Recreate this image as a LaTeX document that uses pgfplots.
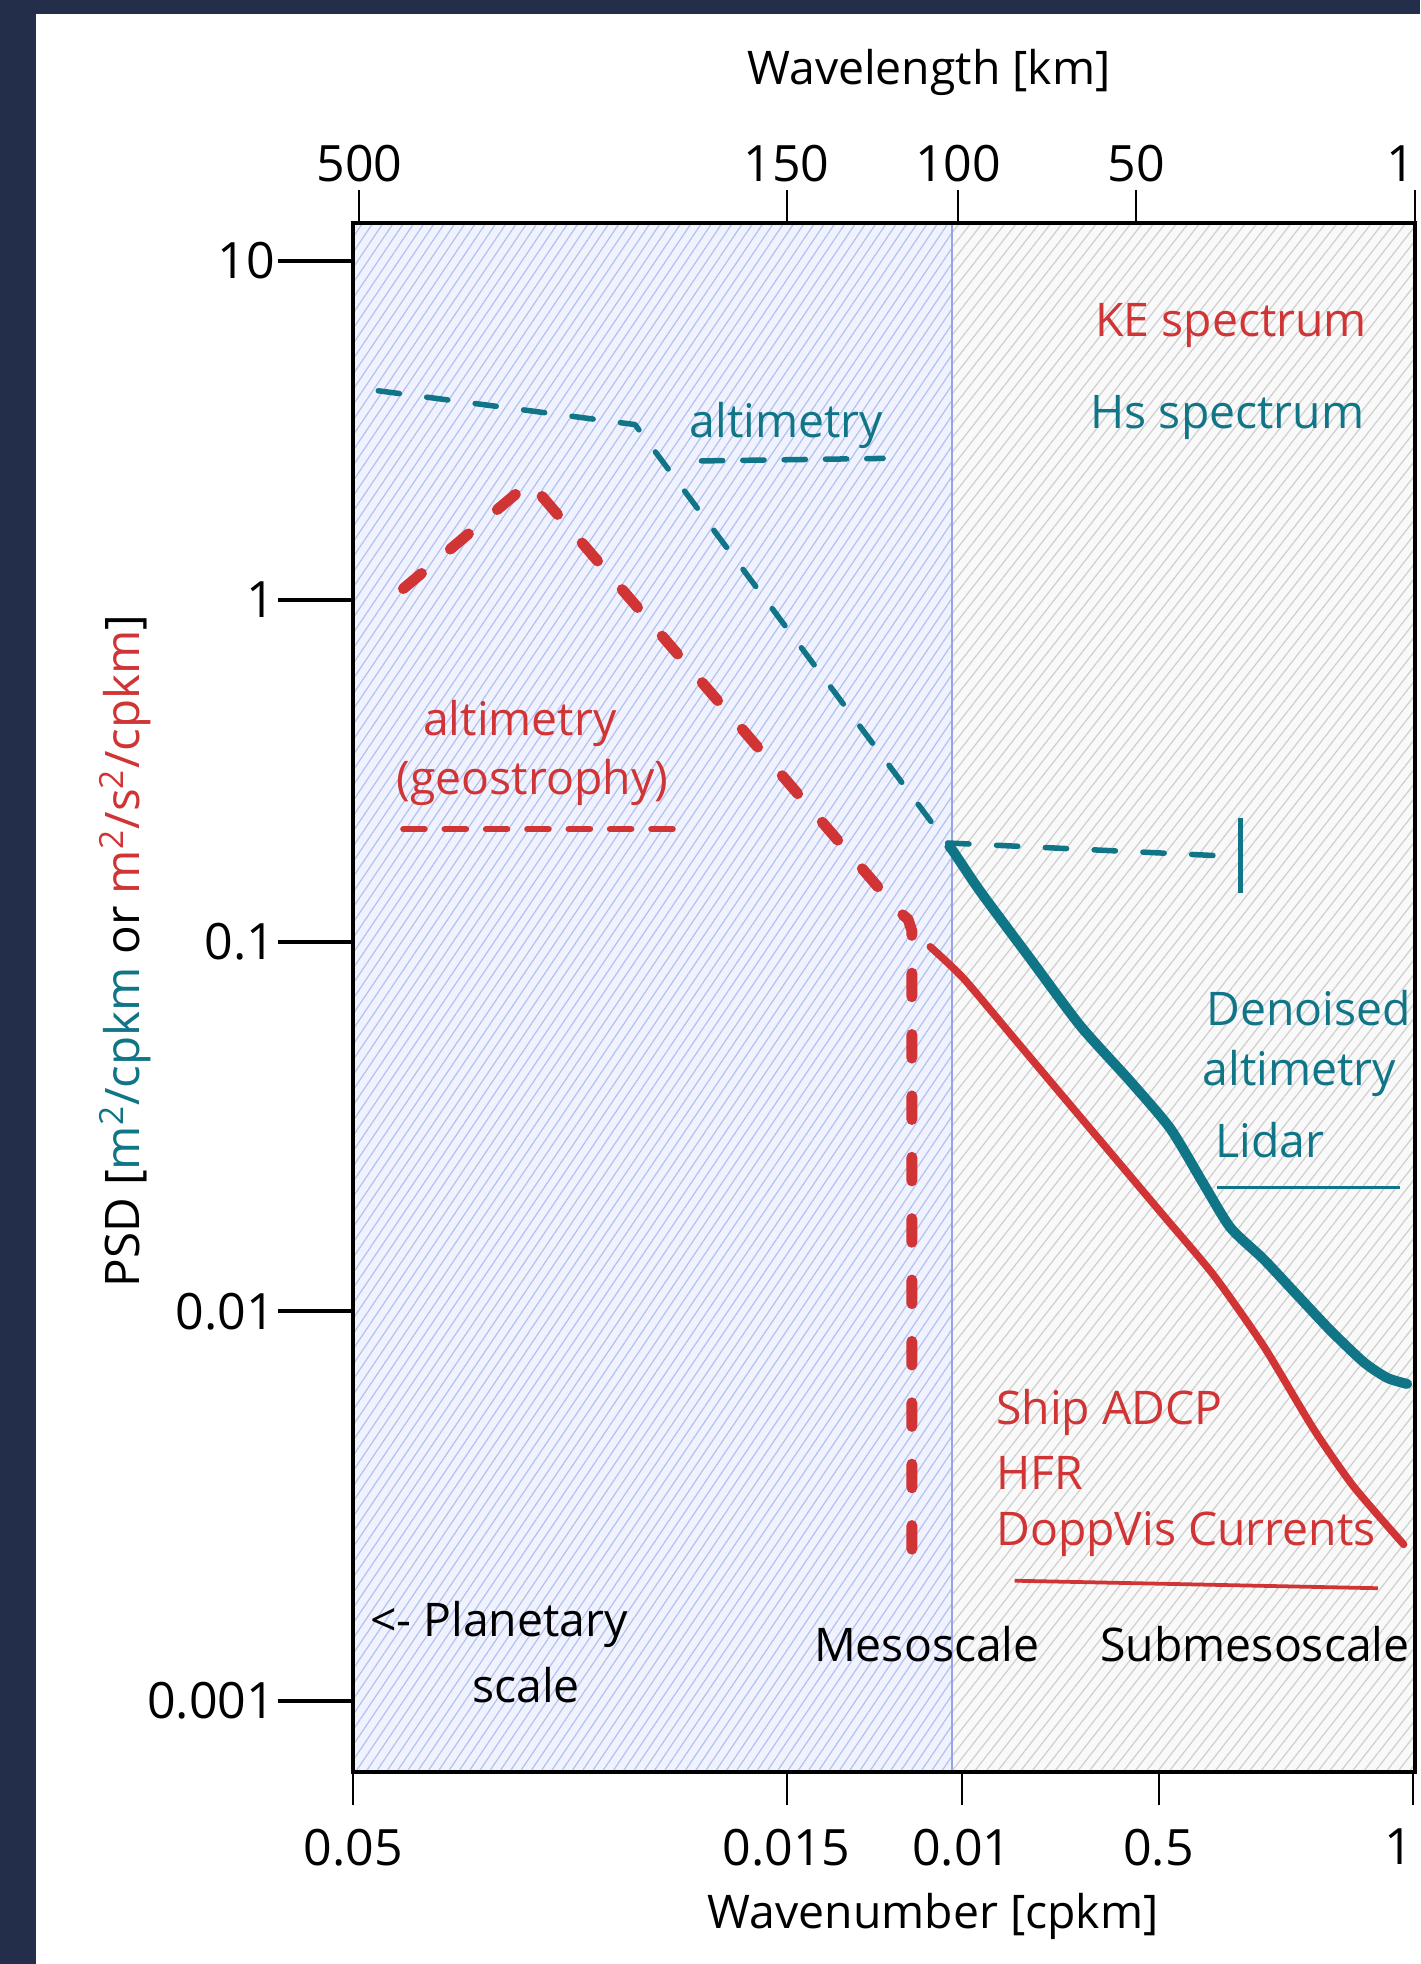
\documentclass[border=0pt]{standalone}
\usepackage{pgfplots}
\pgfplotsset{compat=1.18}
\usetikzlibrary{patterns.meta}
\usepackage{fontspec}
\setmainfont{Open Sans}
\definecolor{navy}{RGB}{34,46,74}
\definecolor{kered}{RGB}{208,52,52}
\definecolor{hsteal}{RGB}{16,117,134}
\definecolor{bluebg}{RGB}{240,243,254}
\definecolor{bluehatch}{RGB}{180,194,242}
\definecolor{blueedge}{RGB}{150,165,225}
\definecolor{graybg}{RGB}{249,249,249}
\definecolor{grayhatch}{RGB}{208,208,208}
\newcommand\annot{\fontsize{18.5}{22}\selectfont}
\newcommand\tickf{\fontsize{20}{24}\selectfont}
\pgfplotsset{
  base/.style={
    scale only axis, width=424pt, height=618.5pt,
    xmin=0, xmax=848, ymin=0, ymax=1237,
    at={(141pt,76.5pt)}, anchor=south west,
    clip=false,
  }
}
\begin{document}
\begin{tikzpicture}
\useasboundingbox (0,0) rectangle (567pt,784pt);
\clip (0,0) rectangle (567pt,784pt);
\fill[navy] (0,0) rectangle (567pt,784pt);
\fill[white] (14.4pt,0pt) rectangle (567pt,778.4pt);
\begin{axis}[base,
  axis on top,
  axis line style={line width=1.6pt, black},
  xtick=\empty,
  ytick={57,368,663,936,1207},
  yticklabels={0.001,0.01,0.1,1,10},
  ytick pos=left,
  tick align=outside,
  major tick length=30pt,
  ytick style={line width=1.6pt, black},
  yticklabel style={font=\tickf, inner sep=1pt},
  ylabel={PSD [\textcolor{hsteal}{m\textsuperscript{2}/cpkm} or \textcolor{kered}{m\textsuperscript{2}/s\textsuperscript{2}/cpkm}]},
  ylabel style={at={([xshift=-91pt]axis description cs:0,0.53)}, anchor=center, font=\fontsize{19}{22}\selectfont},
]
% scale regions
\addplot[draw=none, fill=bluebg] coordinates {(0,0) (478,0) (478,1237) (0,1237) (0,0)};
\addplot[draw=none, pattern={Lines[angle=56,distance=3.4pt,line width=0.5pt]}, pattern color=bluehatch] coordinates {(0,0) (478,0) (478,1237) (0,1237) (0,0)};
\addplot[draw=none, fill=graybg] coordinates {(478,0) (848,0) (848,1237) (478,1237) (478,0)};
\addplot[draw=none, pattern={Lines[angle=52,distance=3.6pt,line width=0.5pt]}, pattern color=grayhatch] coordinates {(478,0) (848,0) (848,1237) (478,1237) (478,0)};
\addplot[blueedge, line width=1pt, no marks] coordinates {(478,0) (478,1237)};
% Hs altimetry (dashed)
\addplot[hsteal, no marks, line width=2.2pt, line cap=round, line join=round, dash pattern=on 8.5pt off 11pt] coordinates {(20,1103) (225,1076) (474,742) (708,731)};
\addplot[hsteal, no marks, line width=2pt] coordinates {(708,762) (708,702)};
% KE altimetry (dashed)
\addplot[kered, no marks, line width=4.3pt, line cap=round, line join=round, dash pattern=on 9.5pt off 15pt] coordinates {(40,945) (141,1030) (436,687) (443,681) (446,672) (446,170)};
% Hs denoised altimetry / lidar
\addplot[hsteal, no marks, line width=4pt, line cap=round, line join=round, smooth, tension=0.4] coordinates {(476,739) (479.3,734.9) (500.6,703.3) (540.5,649.6) (580.5,596) (620.4,551.7) (652.4,513.9) (679,469.6) (700.3,434.9) (726.9,409.6) (753.5,381.2) (780,353) (806.7,327.5) (825.4,315) (841.4,310.1)};
% KE ship ADCP / HFR / DoppVis
\addplot[kered, no marks, line width=3pt, line cap=round, line join=round, smooth, tension=0.4] coordinates {(460.7,659.1) (487.3,633.8) (527.2,586.5) (567.1,539.1) (607.1,491.7) (647,444.4) (686.9,397) (726.9,340.2) (766.8,274) (798.6,228.3) (838.6,182)};
% underlines
\addplot[hsteal, no marks, line width=2.2pt, line cap=round, dash pattern=on 8.5pt off 8pt] coordinates {(278,1047) (423,1049)};
\addplot[kered, no marks, line width=2.5pt, line cap=round, dash pattern=on 8.5pt off 8pt] coordinates {(40,753) (258,753)};
\addplot[hsteal, no marks, line width=1.2pt] coordinates {(690,467) (836,467)};
\addplot[kered, no marks, line width=1.5pt] coordinates {(528,153) (818,147)};
% annotations
\node[hsteal, font=\annot] at (axis cs:346,1075) {altimetry};
\node[kered, font=\annot] at (axis cs:701,1155) {KE spectrum};
\node[hsteal, font=\annot] at (axis cs:698,1082) {Hs spectrum};
\node[kered, font=\annot] at (axis cs:133,837) {altimetry};
\node[kered, font=\annot] at (axis cs:143,790) {(geostrophy)};
\node[hsteal, font=\annot, anchor=west, inner sep=0pt] at (axis cs:681,610) {Denoised};
\node[hsteal, font=\annot, anchor=west, inner sep=0pt] at (axis cs:678,558) {altimetry};
\node[hsteal, font=\annot, anchor=west, inner sep=0pt] at (axis cs:688,505) {Lidar};
\node[kered, font=\annot, anchor=west, inner sep=0pt] at (axis cs:513,287) {Ship ADCP};
\node[kered, font=\annot, anchor=west, inner sep=0pt] at (axis cs:513,239) {HFR};
\node[kered, font=\annot, anchor=west, inner sep=0pt] at (axis cs:513,190) {DoppVis Currents};
\node[black, font=\annot, anchor=west, inner sep=0pt] at (axis cs:13,118) {<- Planetary};
\node[black, font=\annot] at (axis cs:138,70) {scale};
\node[black, font=\annot] at (axis cs:458,102) {Mesoscale};
\node[black, font=\annot] at (axis cs:720,102) {Submesoscale};
\end{axis}
% bottom wavenumber axis
\begin{axis}[base,
  hide y axis, axis x line*=bottom, x axis line style={draw=none},
  xtick={0,346,486,643,846}, xticklabels={0.05,0.015,0.01,0.5,\llap{1}},
  tick align=outside, major tick length=13pt,
  xtick style={line width=0.8pt, black},
  xticklabel style={font=\tickf, yshift=-6pt},
  xlabel={Wavenumber [cpkm]},
  xlabel style={at={(axis description cs:0.546,0)}, anchor=center, yshift=-57.5pt, font=\annot},
]
\end{axis}
% top wavelength axis
\begin{axis}[base,
  hide y axis, axis x line*=top, x axis line style={draw=none},
  xtick={5,346,483,625,848}, xticklabels={500,150,100,50,\llap{1}},
  tick align=outside, major tick length=13pt,
  xtick style={line width=0.8pt, black},
  xticklabel style={font=\tickf},
  xlabel={Wavelength [km]},
  xlabel style={at={(axis description cs:0.542,1)}, anchor=center, yshift=60pt, font=\annot},
]
\end{axis}
\end{tikzpicture}
\end{document}
